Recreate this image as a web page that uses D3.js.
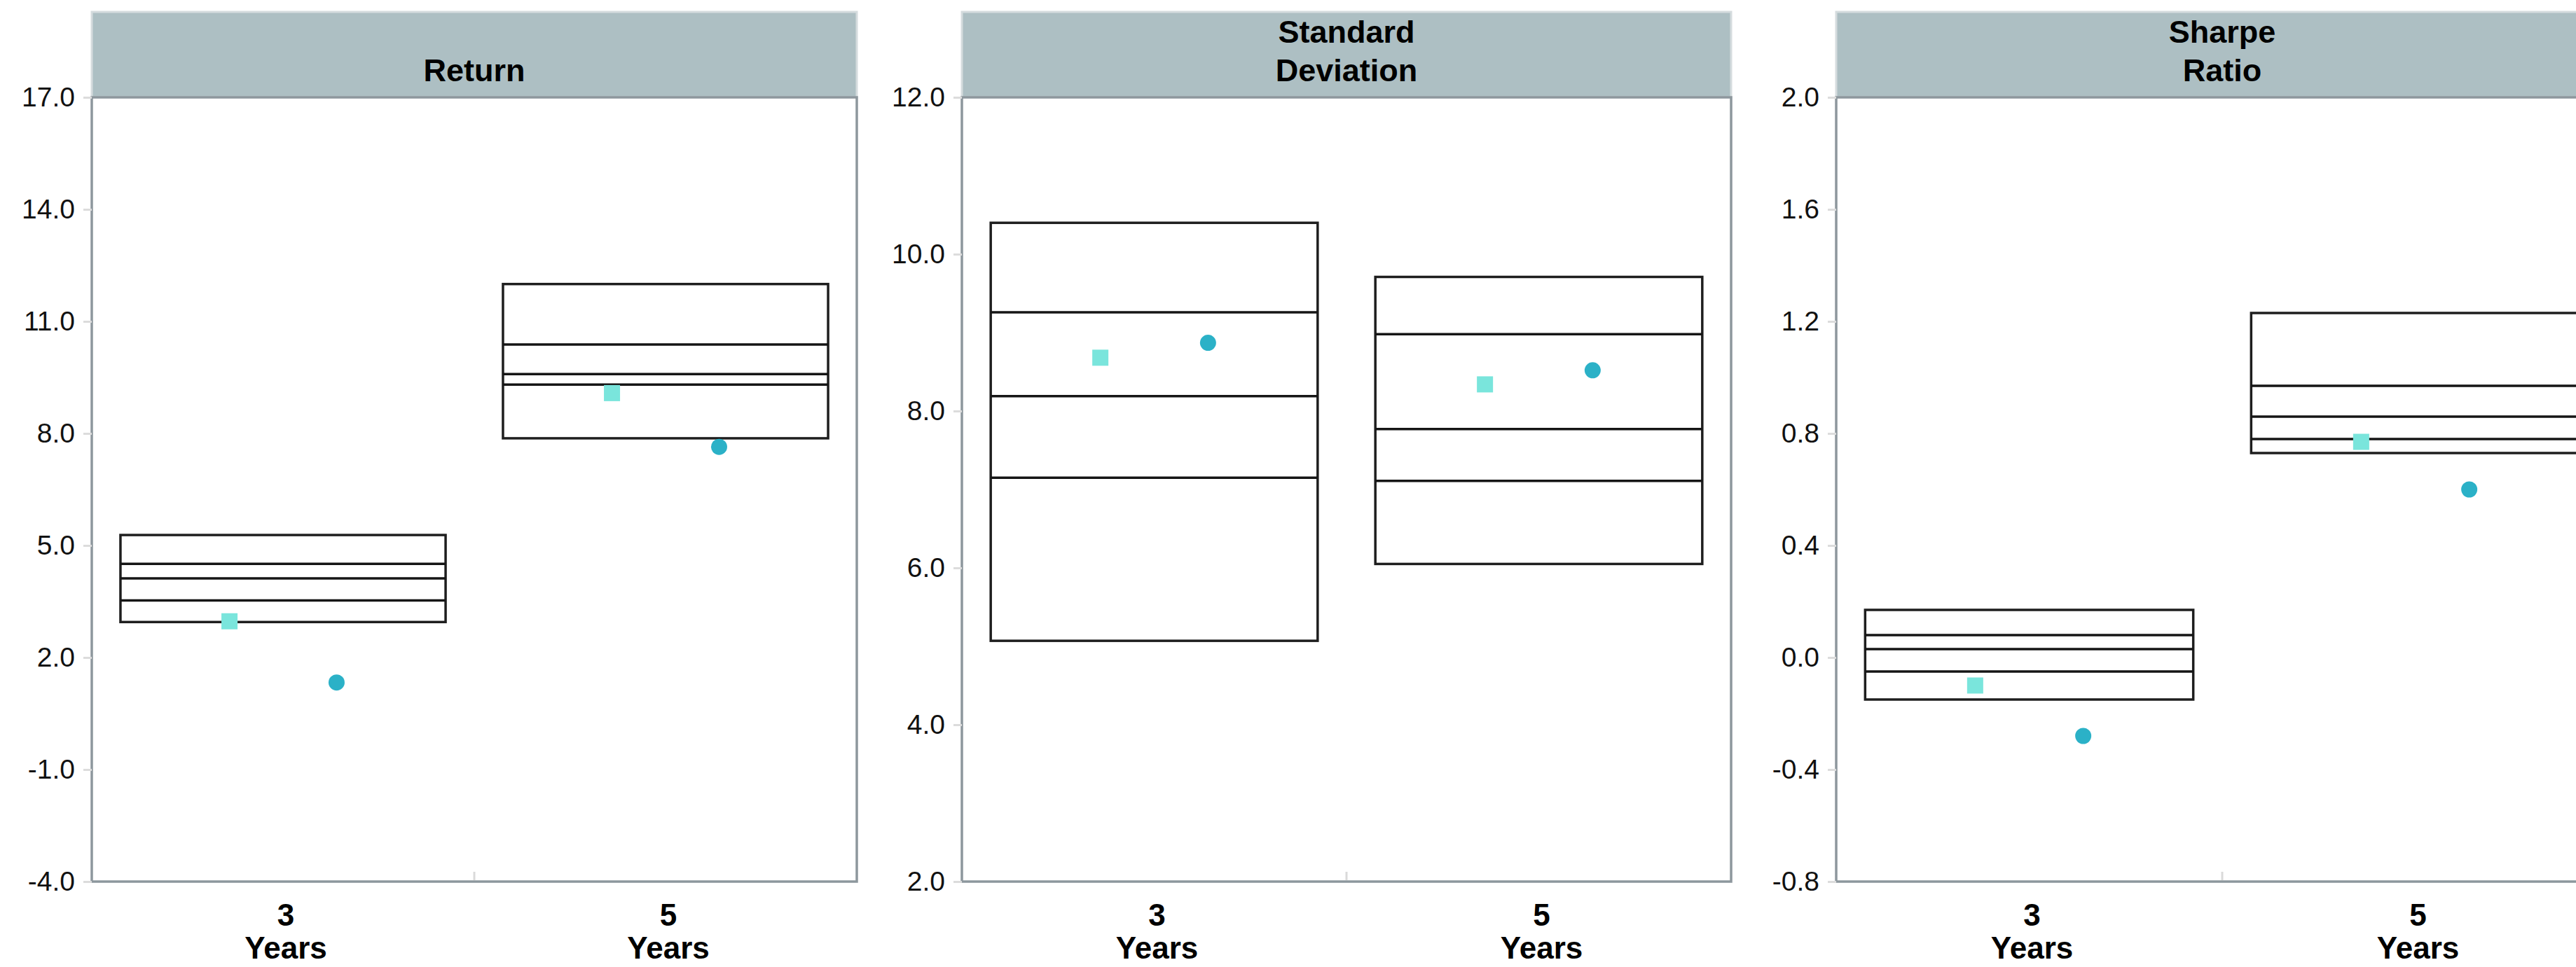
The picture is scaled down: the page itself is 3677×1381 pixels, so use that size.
<!DOCTYPE html>
<html>
<head>
<meta charset="utf-8">
<script src="https://cdn.jsdelivr.net/npm/d3@7"></script>
<style>
  body { margin: 0; background: #fff; }
  svg { display: block; }
</style>
</head>
<body>
<svg id="chart" width="3677" height="1381"></svg>
<script>
// Periods on the x axis (years)
const periods = ["3", "5"];

// Panel titles, one entry per text line
const titleLines = [["Return"], ["Standard", "Deviation"], ["Sharpe", "Ratio"]];

// Peer-group bands per period: [95th, 75th, median, 25th, 5th] percentile
const returnBands = [[5.28, 4.51, 4.12, 3.53, 2.95], [12.0, 10.38, 9.59, 9.31, 7.87]];
const stdDevBands = [[10.40, 9.26, 8.19, 7.15, 5.07], [9.71, 8.98, 7.77, 7.11, 6.05]];
const sharpeBands = [[0.17, 0.08, 0.03, -0.05, -0.15], [1.23, 0.97, 0.86, 0.78, 0.73]];

// Portfolio (square) and benchmark (circle) values per period
const portfolioReturn = [2.97, 9.08];
const benchmarkReturn = [1.33, 7.64];
const portfolioStdDev = [8.68, 8.34];
const benchmarkStdDev = [8.87, 8.52];
const portfolioSharpe = [-0.10, 0.77];
const benchmarkSharpe = [-0.28, 0.60];

// Y axis tick values for each panel
const returnTicks = [-4, -1, 2, 5, 8, 11, 14, 17];
const stdDevTicks = [2, 4, 6, 8, 10, 12];
const sharpeTicks = [-0.8, -0.4, 0.0, 0.4, 0.8, 1.2, 1.6, 2.0];

const panels = [
  { title: titleLines[0], bands: returnBands, portfolio: portfolioReturn, benchmark: benchmarkReturn, ticks: returnTicks },
  { title: titleLines[1], bands: stdDevBands, portfolio: portfolioStdDev, benchmark: benchmarkStdDev, ticks: stdDevTicks },
  { title: titleLines[2], bands: sharpeBands, portfolio: portfolioSharpe, benchmark: benchmarkSharpe, ticks: sharpeTicks }
];

// Layout
const panelLeft = [131, 1373, 2621];
const panelWidth = [1092, 1098, 1102];
const headerTop = 17;
const plotTop = 139;
const plotBottom = 1259;
const font = "'Liberation Sans', Arial, Helvetica, sans-serif";

const svg = d3.select("#chart");

panels.forEach((p, i) => {
  const w = panelWidth[i];
  const g = svg.append("g").attr("transform", `translate(${panelLeft[i]},0)`);

  const x = d3.scaleBand().domain(periods).range([0, w]).padding(0);
  const bw = x.bandwidth();
  const inner = d3.scalePoint().domain(["portfolio", "benchmark"]).range([0.36 * bw, 0.64 * bw]);
  const y = d3.scaleLinear().domain(d3.extent(p.ticks)).range([plotBottom, plotTop]);

  // header strip
  g.append("rect")
    .attr("x", 0).attr("y", headerTop)
    .attr("width", w).attr("height", plotTop - headerTop)
    .attr("fill", "#adbfc3")
    .attr("stroke", "#d5dcde").attr("stroke-width", 3);

  const title = g.append("text")
    .attr("text-anchor", "middle")
    .attr("font-family", font).attr("font-weight", "bold")
    .attr("font-size", 45).attr("fill", "#000");
  const baselines = p.title.length === 1 ? [116] : [61, 116];
  p.title.forEach((line, k) => {
    title.append("tspan").attr("x", w / 2).attr("y", baselines[k]).text(line);
  });

  // plot frame
  g.append("rect")
    .attr("x", 0).attr("y", plotTop)
    .attr("width", w).attr("height", plotBottom - plotTop)
    .attr("fill", "#fff")
    .attr("stroke", "#8d979d").attr("stroke-width", 3.5);

  // divider tick between periods
  g.append("line")
    .attr("x1", x(periods[1])).attr("x2", x(periods[1]))
    .attr("y1", plotBottom - 14).attr("y2", plotBottom - 2)
    .attr("stroke", "#dadada").attr("stroke-width", 3);

  // percentile boxes
  const boxW = 0.85 * bw;
  periods.forEach((per, j) => {
    const b = p.bands[j];
    const bx = x(per) + (bw - boxW) / 2;
    const bg = g.append("g");
    bg.append("rect")
      .attr("x", bx).attr("y", y(b[0]))
      .attr("width", boxW).attr("height", y(b[4]) - y(b[0]))
      .attr("fill", "none")
      .attr("stroke", "#1e1e1e").attr("stroke-width", 3.5);
    bg.selectAll("line.q")
      .data(b.slice(1, 4))
      .join("line")
      .attr("class", "q")
      .attr("x1", bx).attr("x2", bx + boxW)
      .attr("y1", d => y(d)).attr("y2", d => y(d))
      .attr("stroke", "#151515").attr("stroke-width", 3.5);

    // portfolio marker (square)
    const s = 23;
    g.append("rect")
      .attr("x", x(per) + inner("portfolio") - s / 2)
      .attr("y", y(p.portfolio[j]) - s / 2)
      .attr("width", s).attr("height", s)
      .attr("fill", "#7ae5dc");

    // benchmark marker (circle)
    g.append("circle")
      .attr("cx", x(per) + inner("benchmark"))
      .attr("cy", y(p.benchmark[j]))
      .attr("r", 11.5)
      .attr("fill", "#2bb1c7");
  });

  // y axis
  const yAxis = d3.axisLeft(y)
    .tickValues(p.ticks)
    .tickFormat(d => d.toFixed(1))
    .tickSize(12)
    .tickPadding(12);
  const ax = g.append("g").call(yAxis);
  ax.select(".domain").remove();
  ax.selectAll(".tick line").attr("stroke", "#dcdcdc").attr("stroke-width", 3);
  ax.selectAll(".tick text")
    .attr("font-family", font).attr("font-size", 39).attr("fill", "#111");

  // x labels
  const xl = g.append("g");
  periods.forEach(per => {
    const t = xl.append("text")
      .attr("text-anchor", "middle")
      .attr("font-family", font).attr("font-weight", "bold")
      .attr("font-size", 44).attr("fill", "#000");
    t.append("tspan").attr("x", x(per) + bw / 2 + 4).attr("y", 1322).text(per);
    t.append("tspan").attr("x", x(per) + bw / 2 + 4).attr("y", 1369).text("Years");
  });
});
</script>
</body>
</html>
